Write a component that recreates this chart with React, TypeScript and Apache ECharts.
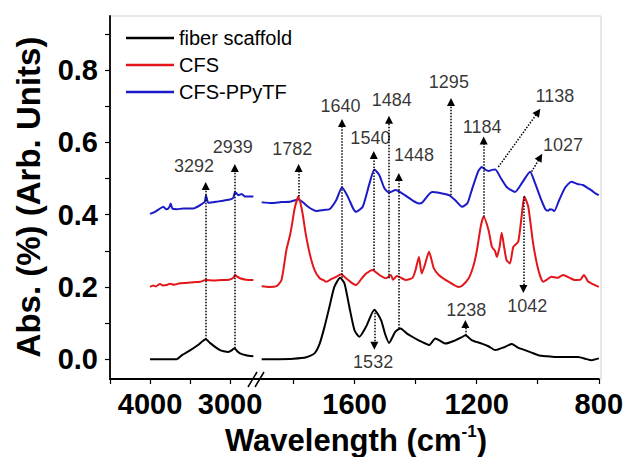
import React, { useEffect, useRef } from 'react';
import * as echarts from 'echarts';

const FONT = 'Arial, "Liberation Sans", Helvetica, sans-serif';

const seriesNames = ['fiber scaffold', 'CFS', 'CFS-PPyTF'];
const seriesColors = ['#000000', '#e3161b', '#1a1ac8'];

// ---- spectra, high-wavenumber segment (4000–2700 cm-1) ----
const fiberLeft: [number, number][] = [
  [4000, 0.0], [3900, 0.0], [3800, 0.0], [3667, 0.0], [3600, 0.011], [3500, 0.024], [3400, 0.039],
  [3304, 0.055], [3250, 0.045], [3200, 0.036], [3125, 0.025], [3080, 0.022], [3021, 0.02],
  [2980, 0.024], [2946, 0.03], [2910, 0.022], [2875, 0.016], [2800, 0.011], [2708, 0.008],
];
const cfsLeft: [number, number][] = [
  [4000, 0.2], [3960, 0.204], [3930, 0.201], [3875, 0.208], [3840, 0.204], [3792, 0.205],
  [3750, 0.209], [3700, 0.206], [3625, 0.21], [3550, 0.211], [3450, 0.213], [3375, 0.214],
  [3304, 0.219], [3200, 0.218], [3100, 0.219], [3042, 0.219], [2980, 0.222], [2950, 0.228],
  [2937, 0.233], [2915, 0.229], [2875, 0.224], [2800, 0.22], [2708, 0.219],
];
const ppyLeft: [number, number][] = [
  [4000, 0.402], [3937, 0.408], [3875, 0.417], [3833, 0.422], [3800, 0.415], [3771, 0.417],
  [3750, 0.425], [3741, 0.431], [3721, 0.417], [3666, 0.415], [3583, 0.417], [3458, 0.417],
  [3354, 0.429], [3315, 0.436], [3300, 0.454], [3285, 0.44], [3271, 0.433], [3166, 0.436],
  [3000, 0.442], [2960, 0.446], [2937, 0.463], [2896, 0.454], [2854, 0.457], [2812, 0.45], [2708, 0.45],
];

// ---- spectra, fingerprint segment (1900–800 cm-1) ----
const fiberRight: [number, number][] = [
  [1904, 0.0], [1850, 0.0], [1800, 0.001], [1758, 0.005], [1731, 0.016], [1714, 0.043], [1698, 0.09],
  [1682, 0.145], [1666, 0.2], [1647, 0.225], [1633, 0.21], [1617, 0.145], [1600, 0.08], [1584, 0.062],
  [1562, 0.09], [1535, 0.137], [1513, 0.108], [1500, 0.07], [1487, 0.045], [1466, 0.076], [1449, 0.085],
  [1430, 0.072], [1411, 0.062], [1390, 0.052], [1367, 0.043], [1356, 0.039], [1335, 0.057], [1318, 0.05],
  [1302, 0.043], [1270, 0.052], [1250, 0.06], [1237, 0.066], [1215, 0.052], [1183, 0.043], [1160, 0.035],
  [1139, 0.025], [1110, 0.033], [1085, 0.042], [1065, 0.032], [1042, 0.025], [1020, 0.018], [998, 0.011],
  [970, 0.008], [944, 0.006], [900, 0.006], [868, 0.006], [840, 0.0], [825, -0.003], [800, 0.002],
];
const cfsRight: [number, number][] = [
  [1904, 0.202], [1880, 0.2], [1855, 0.202], [1839, 0.219], [1823, 0.302], [1812, 0.34], [1806, 0.366],
  [1796, 0.417], [1784, 0.45], [1771, 0.408], [1760, 0.348], [1747, 0.293], [1731, 0.247], [1714, 0.224],
  [1700, 0.218], [1693, 0.214], [1675, 0.222], [1660, 0.228], [1644, 0.235], [1628, 0.224], [1610, 0.212],
  [1595, 0.205], [1575, 0.225], [1562, 0.237], [1541, 0.247], [1519, 0.233], [1497, 0.224], [1481, 0.233],
  [1474, 0.22], [1461, 0.23], [1445, 0.224], [1432, 0.219], [1410, 0.225], [1400, 0.247], [1389, 0.283],
  [1380, 0.237], [1370, 0.26], [1356, 0.297], [1340, 0.251], [1324, 0.233], [1291, 0.214], [1259, 0.2],
  [1248, 0.203], [1226, 0.224], [1210, 0.26], [1199, 0.302], [1186, 0.37], [1177, 0.394], [1161, 0.357],
  [1150, 0.311], [1140, 0.3], [1134, 0.283], [1125, 0.31], [1118, 0.35], [1110, 0.31], [1102, 0.274],
  [1091, 0.265], [1080, 0.311], [1064, 0.325], [1053, 0.394], [1044, 0.45], [1031, 0.422], [1015, 0.32],
  [998, 0.247], [982, 0.214], [970, 0.22], [955, 0.228], [935, 0.225], [917, 0.233], [895, 0.225],
  [879, 0.219], [860, 0.22], [849, 0.233], [835, 0.215], [825, 0.21], [800, 0.2],
];
const ppyRight: [number, number][] = [
  [1904, 0.434], [1870, 0.432], [1840, 0.435], [1812, 0.436], [1795, 0.44], [1784, 0.442], [1770, 0.435],
  [1752, 0.422], [1735, 0.413], [1725, 0.41], [1700, 0.413], [1682, 0.415], [1660, 0.44], [1641, 0.475],
  [1622, 0.45], [1605, 0.418], [1595, 0.408], [1573, 0.422], [1551, 0.486], [1535, 0.525], [1519, 0.51],
  [1502, 0.473], [1487, 0.461], [1465, 0.468], [1444, 0.459], [1411, 0.44], [1389, 0.431], [1379, 0.433],
  [1346, 0.463], [1320, 0.46], [1291, 0.454], [1270, 0.44], [1248, 0.422], [1230, 0.432], [1216, 0.468],
  [1195, 0.52], [1183, 0.532], [1172, 0.525], [1161, 0.521], [1150, 0.524], [1139, 0.525], [1120, 0.5],
  [1100, 0.475], [1074, 0.463], [1050, 0.49], [1025, 0.519], [1010, 0.49], [988, 0.44], [975, 0.415],
  [966, 0.411], [960, 0.415], [952, 0.414], [946, 0.41], [930, 0.44], [910, 0.475], [890, 0.491],
  [870, 0.485], [852, 0.482], [835, 0.473], [825, 0.468], [810, 0.458], [800, 0.454],
];

// ---- axes ----
const yTickValues = [0, 0.1, 0.2, 0.3, 0.4, 0.5, 0.6, 0.7, 0.8, 0.9];
const yLabelValues = [0, 0.2, 0.4, 0.6, 0.8];
const xLeftTicks = [4500, 4000, 3500, 3000];
const xLeftLabels = [4000, 3000];
const xRightTicks = [1800, 1600, 1400, 1200, 1000, 800];
const xRightLabels = [1600, 1200, 800];
const yRange = [-0.055, 0.95];
const xLeftRange = [2650, 4500];
const xRightRange = [800, 1916];

// ---- peak annotations: label text and its anchor [wavenumber, value] ----
const leftPeakLabels = [
  { name: '3292', value: [3450, 0.535] },
  { name: '2939', value: [2966, 0.588] },
];
const rightPeakLabels = [
  { name: '1782', value: [1804, 0.581] },
  { name: '1640', value: [1646, 0.701] },
  { name: '1540', value: [1548, 0.611] },
  { name: '1484', value: [1478, 0.717] },
  { name: '1448', value: [1405, 0.565] },
  { name: '1295', value: [1291, 0.768] },
  { name: '1184', value: [1182, 0.643] },
  { name: '1138', value: [944, 0.729] },
  { name: '1027', value: [917, 0.593] },
  { name: '1042', value: [1034, 0.147] },
  { name: '1532', value: [1539, -0.007] },
  { name: '1238', value: [1234, 0.136] },
];
// arrows: [fromWavenumber, fromValue, toWavenumber, toValue]
const leftArrows = [
  [3304, 0.055, 3304, 0.479],
  [2940, 0.03, 2940, 0.529],
];
const rightArrows = [
  [1783, 0.45, 1783, 0.529],
  [1641, 0.225, 1641, 0.654],
  [1537, 0.247, 1537, 0.565],
  [1487, 0.224, 1487, 0.663],
  [1455, 0.085, 1455, 0.504],
  [1284, 0.454, 1284, 0.712],
  [1177, 0.394, 1177, 0.605],
  [1129, 0.532, 999, 0.684],
  [1020, 0.519, 992, 0.559],
  [1047, 0.45, 1047, 0.194],
  [1535, 0.137, 1535, 0.037],
  [1237, 0.066, 1237, 0.097],
];

function lineSeries(name: string, color: string, data: [number, number][], gi: number, z: number) {
  return {
    type: 'line',
    name,
    xAxisIndex: gi,
    yAxisIndex: gi,
    data,
    symbol: 'none',
    showSymbol: false,
    smooth: 0.2,
    z,
    lineStyle: { color, width: 2 },
    itemStyle: { color },
    silent: true,
  };
}

function annotSeries(labels: any[], arrows: number[][], gi: number) {
  return {
    type: 'scatter',
    name: 'annot' + gi,
    xAxisIndex: gi,
    yAxisIndex: gi,
    data: labels,
    symbolSize: 1,
    itemStyle: { color: 'rgba(0,0,0,0)' },
    silent: true,
    z: 6,
    label: {
      show: true,
      position: 'inside',
      formatter: (p: any) => p.name,
      color: '#000',
      textBorderWidth: 0,
      textBorderColor: 'transparent',
      fontFamily: FONT,
      fontSize: 18,
    },
    markLine: {
      silent: true,
      animation: false,
      symbol: ['none', 'triangle'],
      symbolSize: 8,
      label: { show: false },
      lineStyle: { color: '#000', type: 'dotted', width: 1.5 },
      itemStyle: { color: '#000' },
      emphasis: { disabled: true },
      data: arrows.map((a) => [{ coord: [a[0], a[1]] }, { coord: [a[2], a[3]] }]),
    },
  };
}

const xAxisCommon = {
  type: 'value',
  inverse: true,
  position: 'bottom',
  axisLine: { show: true, onZero: false, lineStyle: { color: '#000', width: 1.8 } },
  axisTick: { show: true, length: 5, lineStyle: { color: '#000', width: 1.2 } },
  axisLabel: {
    color: '#000',
    fontFamily: FONT,
    fontSize: 29,
    fontWeight: 'bold',
    margin: 10,
    formatter: (v: number) => String(v),
  },
  splitLine: { show: false },
};

const option: any = {
  animation: false,
  backgroundColor: '#ffffff',
  textStyle: { fontFamily: FONT },
  grid: [
    { left: 110, top: 16, width: 148, height: 363 },
    { left: 258, top: 16, width: 343, height: 363 },
  ],
  legend: {
    data: seriesNames,
    orient: 'vertical',
    left: 121,
    top: 23,
    icon: 'rect',
    itemWidth: 48,
    itemHeight: 2.5,
    itemGap: 7,
    selectedMode: false,
    textStyle: { color: '#000', fontFamily: FONT, fontSize: 20 },
  },
  xAxis: [
    {
      ...xAxisCommon,
      gridIndex: 0,
      min: xLeftRange[0],
      max: xLeftRange[1],
      axisTick: { ...xAxisCommon.axisTick, customValues: xLeftTicks },
      axisLabel: { ...xAxisCommon.axisLabel, customValues: xLeftLabels },
    },
    {
      ...xAxisCommon,
      gridIndex: 1,
      min: xRightRange[0],
      max: xRightRange[1],
      axisTick: { ...xAxisCommon.axisTick, customValues: xRightTicks },
      axisLabel: { ...xAxisCommon.axisLabel, customValues: xRightLabels },
    },
  ],
  yAxis: [
    {
      type: 'value',
      gridIndex: 0,
      min: yRange[0],
      max: yRange[1],
      axisLine: { show: true, onZero: false, lineStyle: { color: '#000', width: 1.8 } },
      axisTick: { show: true, length: 5, customValues: yTickValues, lineStyle: { color: '#000', width: 1.2 } },
      axisLabel: {
        customValues: yLabelValues,
        formatter: (v: number) => v.toFixed(1),
        color: '#000',
        fontFamily: FONT,
        fontSize: 29,
        fontWeight: 'bold',
        margin: 12,
      },
      splitLine: { show: false },
    },
    {
      type: 'value',
      gridIndex: 1,
      min: yRange[0],
      max: yRange[1],
      show: false,
      splitLine: { show: false },
    },
  ],
  graphic: [
    {
      type: 'rect',
      z: -10,
      silent: true,
      shape: { x: 110, y: 16, width: 491, height: 363 },
      style: { fill: 'none', stroke: '#cfcfcf', lineWidth: 1 },
    },
    {
      type: 'line',
      silent: true,
      shape: { x1: 248, y1: 387, x2: 257, y2: 372 },
      style: { stroke: '#000', lineWidth: 1.5 },
    },
    {
      type: 'line',
      silent: true,
      shape: { x1: 255, y1: 387, x2: 264, y2: 372 },
      style: { stroke: '#000', lineWidth: 1.5 },
    },
    {
      type: 'text',
      silent: true,
      x: 356,
      y: 440,
      style: {
        text: '{a|Wavelength (cm}{s|-1}{a|)}',
        align: 'center',
        verticalAlign: 'middle',
        rich: {
          a: { fontFamily: FONT, fontSize: 31, fontWeight: 'bold', fill: '#000', lineHeight: 34 },
          s: { fontFamily: FONT, fontSize: 17, fontWeight: 'bold', fill: '#000', verticalAlign: 'top', lineHeight: 17 },
        },
      },
    },
    {
      type: 'text',
      silent: true,
      x: 28,
      y: 197,
      rotation: Math.PI / 2,
      style: {
        text: 'Abs. (%) (Arb. Units)',
        align: 'center',
        verticalAlign: 'middle',
        fontFamily: FONT,
        fontSize: 33,
        fontWeight: 'bold',
        fill: '#000',
      },
    },
  ],
  series: [
    lineSeries(seriesNames[0], seriesColors[0], fiberLeft, 0, 3),
    lineSeries(seriesNames[1], seriesColors[1], cfsLeft, 0, 4),
    lineSeries(seriesNames[2], seriesColors[2], ppyLeft, 0, 2),
    lineSeries(seriesNames[0], seriesColors[0], fiberRight, 1, 3),
    lineSeries(seriesNames[1], seriesColors[1], cfsRight, 1, 4),
    lineSeries(seriesNames[2], seriesColors[2], ppyRight, 1, 2),
    annotSeries(leftPeakLabels, leftArrows, 0),
    annotSeries(rightPeakLabels, rightArrows, 1),
  ],
};

export default function App() {
  const ref = useRef<HTMLDivElement>(null);
  useEffect(() => {
    const chart = echarts.init(ref.current as HTMLDivElement, null, { renderer: 'svg' });
    chart.setOption(option);
    return () => chart.dispose();
  }, []);
  return (
    <div
      ref={ref}
      style={{ position: 'fixed', left: 0, top: 0, width: 626, height: 457, background: '#fff' }}
    />
  );
}
